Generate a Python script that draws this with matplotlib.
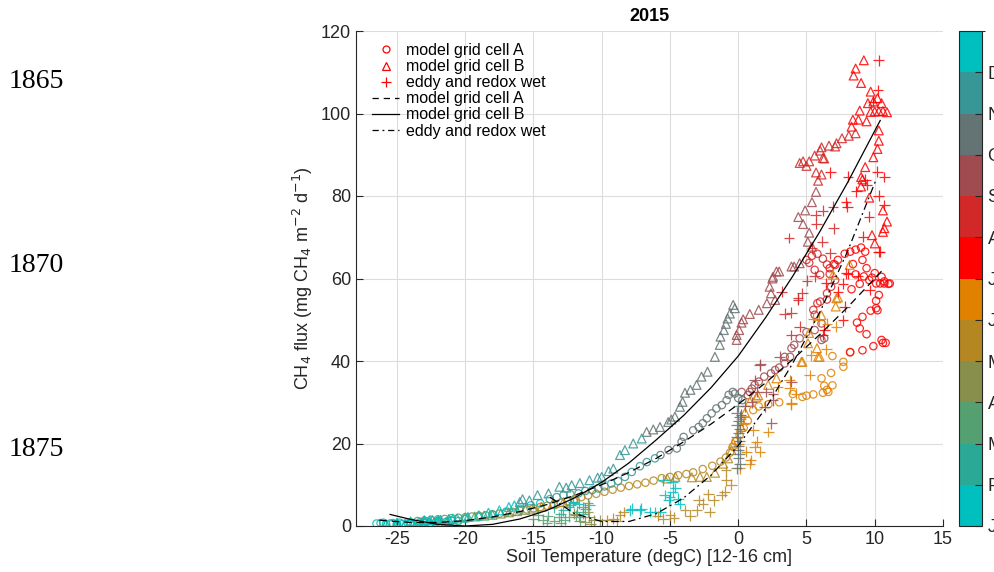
import numpy as np
import matplotlib
matplotlib.use("Agg")
import matplotlib.pyplot as plt
from matplotlib.colors import ListedColormap, BoundaryNorm

plt.rcParams['font.family'] = ['Liberation Sans', 'DejaVu Sans']
plt.rcParams['axes.unicode_minus'] = False

# month colours, Jan..Dec
month_colors = ['#00bfbf', '#2aaa96', '#55a070', '#878f4a', '#b48722', '#e08200',
                '#ff0000', '#d22828', '#a04b50', '#647373', '#379696', '#00bfbf']
month_labels = ['J', 'F', 'M', 'A', 'M', 'J', 'J', 'A', 'S', 'O', 'N', 'D']

# model grid cell A (circles), one list per month
circ_temp = [
    [-26.5, -26.2, -25.8, -25.5, -25.0, -24.6, -24.2, -23.8, -23.4, -23.0, -22.6, -22.2],
    [-26.0, -25.3, -24.8, -24.0, -23.3, -22.8, -22.0, -21.4, -21.0, -20.5],
    [-23.5, -23.0, -22.5, -22.0, -21.5, -21.0, -20.5, -20.0],
    [-19.5, -19.0, -18.5, -18.0, -17.5, -17.0, -16.5, -16.0, -15.5],
    [-15.0, -14.5, -14.0, -13.5, -13.0, -12.5, -12.0, -11.5, -11.0, -10.4,
     -9.8, -9.2, -8.6, -8.0, -7.4, -6.8, -6.2, -5.6, -5.0, -4.4,
     -3.8, -3.3, -2.6, -1.9, -1.3, -0.9, -0.6],
    [-0.4, -0.2, 0.1, 0.4, 0.7, 1.1, 1.5, 2.2, 3.0, 4.0,
     4.7, 5.5, 6.2, 6.6, 6.9, 6.3, 6.1, 6.8, 7.7, 7.7,
     6.9, 8.2, 6.5, 5.0],
    [9.4, 10.0, 10.5, 10.7, 11.0, 10.4, 10.7, 11.1, 10.1, 9.6,
     8.9, 8.3, 10.3, 10.1, 10.2, 10.1, 9.7, 9.1, 8.7, 8.9,
     9.4, 10.5, 10.6, 10.8, 9.9, 9.1, 8.2, 7.3, 7.8, 8.2,
     8.6, 9.0, 9.3, 9.1, 8.4, 7.0, 6.7, 8.6, 9.2, 9.8],
    [5.2, 5.6, 6.0, 6.5, 7.1, 6.7, 7.1, 6.8, 6.5, 6.5, 6.0, 5.8, 5.5, 5.6, 5.0, 5.4, 5.8, 6.2],
    [6.1, 6.3, 6.1, 5.6, 5.0, 4.5, 4.1, 3.9, 3.8, 3.4, 3.4, 3.0, 2.7, 2.4, 1.9, 1.5, 1.2,
     1.0, 0.85, 0.7, 0.25],
    [0.3, 0.0, -0.25, -0.4, -0.7, -0.85, -1.2, -1.6, -1.95, -2.3, -2.6, -2.9, -3.3, -4.0,
     -4.15, -4.5, -5.1, -5.7],
    [-6.1, -6.7, -7.2, -7.8, -8.3, -8.8, -9.3, -9.8, -10.25, -10.7, -11.2, -11.7, -12.3,
     -12.8, -13.3, -13.8],
    [-14.5, -15.2, -16.0, -17.0, -18.0, -19.0, -20.0, -21.0, -22.0, -23.0, -24.0, -25.0],
]
circ_flux = [
    [0.6, 0.7, 0.5, 0.6, 0.4, 0.5, 0.6, 0.5, 0.6, 0.7, 0.6, 0.8],
    [0.8, 0.7, 0.8, 0.9, 1.0, 1.1, 1.2, 1.0, 1.3, 1.2],
    [1.2, 1.3, 1.5, 1.6, 1.7, 1.9, 2.0, 2.1],
    [2.3, 2.5, 2.6, 2.8, 3.0, 3.2, 3.4, 3.7, 4.0],
    [4.3, 4.6, 4.9, 5.2, 5.6, 6.0, 6.5, 7.0, 7.4, 7.8,
     8.3, 8.8, 9.3, 9.7, 10.1, 10.5, 11.0, 11.6, 11.9, 12.3,
     12.6, 13.0, 13.8, 14.6, 15.6, 16.6, 17.8],
    [19.2, 20.5, 22.0, 23.8, 25.5, 28.1, 29.0, 29.5, 30.0, 32.0,
     31.3, 31.9, 32.3, 32.5, 34.1, 34.0, 35.8, 37.1, 38.6, 39.8,
     41.2, 42.2, 33.0, 31.6],
    [62.5, 61.3, 60.4, 59.3, 58.7, 58.8, 58.8, 58.8, 58.8, 59.6,
     58.7, 57.4, 56.0, 54.6, 52.3, 52.8, 52.2, 50.7, 49.3, 47.9,
     46.5, 45.1, 44.4, 44.4, 43.6, 42.6, 42.1, 64.5, 66.0, 66.5,
     67.0, 67.5, 66.5, 64.5, 63.5, 63.5, 62.5, 61.0, 60.5, 60.2],
    [63.8, 62.1, 60.9, 63.4, 63.3, 61.1, 59.6, 58.0, 56.4, 54.9, 54.4, 54.0, 52.4, 51.2,
     64.5, 65.5, 66.0, 64.8],
    [49.1, 45.5, 45.1, 47.5, 47.0, 45.5, 43.9, 43.1, 41.0, 41.0, 39.4, 38.4, 37.8, 37.0,
     36.2, 35.0, 34.2, 33.3, 32.5, 31.7, 32.5],
    [30.5, 31.0, 32.1, 32.5, 31.8, 30.5, 29.3, 28.5, 27.3, 26.1, 24.9, 24.0, 23.2, 21.6,
     20.4, 18.8, 18.4, 17.2],
    [16.4, 15.5, 14.5, 13.1, 11.9, 10.9, 10.3, 9.6, 9.1, 8.7, 8.5, 7.9, 7.7, 7.5, 7.0, 6.5],
    [5.5, 5.0, 4.2, 3.5, 2.8, 2.2, 1.7, 1.3, 1.0, 0.8, 0.6, 0.5],
]

# model grid cell B (triangles)
tri_temp = [
    [-25.8, -25.0, -24.4, -23.8, -23.2, -22.6, -22.0, -21.4],
    [-23.0, -22.4, -21.8, -21.2, -20.6],
    [-20.0, -19.3, -18.6, -18.0],
    [-17.4, -16.8, -16.2, -15.6, -15.0],
    [-14.4, -13.6, -12.8, -12.0, -5.2, -4.6, -3.4, -2.8, -2.3, -1.7, -1.1, -0.74, -0.49],
    [-0.37, 0.2, 0.5, 0.85, 1.34, 1.46, 2.19, 2.8, 4.63, 4.7, 5.19, 5.11, 5.77, 5.97, 5.85,
     6.09, 7.19, 7.14, 7.31, 6.94, 8.16],
    [10.3, 10.3, 10.2, 9.9, 9.3, 9.0, 9.1, 9.0, 9.6, 10.6,
     10.9, 10.6, 10.7, 10.0, 9.2, 8.6, 8.45, 9.0, 9.7, 9.5,
     9.9, 10.2, 10.5, 10.0, 10.3, 10.6, 10.9, 9.7, 8.9, 8.4,
     8.8, 9.4, 8.3, 9.8],
    [8.6, 8.1, 7.6, 7.2, 7.1, 6.65, 6.1, 6.0, 5.6, 6.2, 6.3, 4.5, 4.75, 5.2, 5.0, 5.7, 6.1, 5.85],
    [5.7, 5.4, 4.9, 4.4, 4.75, 5.2, 5.1, 5.4, 4.1, 3.9,
     4.5, 2.8, 3.0, 2.55, 2.5, 2.3, 2.4, 2.1, 2.7, 1.5,
     0.85, 0.36, 0.24, 0.07, -0.12, -0.12],
    [-0.37, -0.25, -0.61, -0.78, -0.9, -1.05, -1.3, -1.35, -1.71, -2.25, -2.69, -3.05, -3.5,
     -3.9, -4.08, -4.27, -4.64, -4.9, -5.13, -5.73, -6.22, -6.71],
    [-7.07, -7.69, -8.3, -8.66, -9.15, -9.5, -10.0, -10.3, -10.9, -11.6, -12.2, -12.6, -13.1,
     -13.9, -14.7, -15.3, -16.0, -15.8],
    [-16.4, -16.8, -17.5, -18.3, -19.0, -19.8, -20.9, -22.0, -22.6, -23.0, -24.0, -25.0],
]
tri_flux = [
    [0.4, 0.5, 0.6, 0.5, 0.7, 0.8, 0.9, 1.0],
    [1.3, 1.4, 1.5, 1.7, 1.8],
    [2.1, 2.3, 2.5, 2.7],
    [3.0, 3.3, 3.6, 3.9, 4.2],
    [4.7, 5.3, 5.8, 6.5, 11.5, 11.9, 11.8, 11.9, 11.9, 12.9, 15.1, 16.4, 18.4],
    [20.0, 24.0, 27.5, 30.1, 31.3, 31.7, 34.2, 35.8, 39.8, 39.8, 46.8, 44.3, 43.1, 41.0, 41.0,
     51.1, 55.2, 53.2, 55.4, 60.9, 63.3],
    [95.9, 93.4, 91.4, 89.4, 87.0, 84.6, 84.0, 82.3, 79.6, 76.5,
     73.8, 71.3, 72.2, 68.5, 112.9, 110.9, 109.2, 107.4, 105.3, 102.5,
     102.9, 103.7, 102.5, 100.5, 100.5, 100.6, 100.3, 100.4, 100.7, 98.5,
     98.5, 98.1, 96.8, 70.5],
    [95.2, 94.6, 94.0, 92.8, 92.0, 92.2, 91.8, 91.0, 89.8, 89.2, 89.1, 88.0, 88.4, 88.4, 87.3,
     85.7, 85.2, 83.7],
    [81.0, 78.5, 76.5, 74.9, 73.2, 71.1, 68.9, 67.7, 62.9, 62.9,
     63.7, 61.7, 61.7, 60.4, 60.0, 58.0, 56.4, 54.0, 54.8, 52.4,
     51.4, 50.1, 49.3, 47.5, 46.3, 45.1],
    [53.6, 52.8, 51.5, 50.3, 49.0, 47.5, 45.9, 43.9, 41.0, 37.4, 36.2, 34.2, 33.0,
     32.3, 30.1, 28.9, 26.5, 25.8, 25.2, 24.0, 23.4, 22.8],
    [21.2, 20.0, 18.4, 17.2, 13.9, 13.3, 11.9, 11.7, 11.1, 10.4, 9.9, 9.3, 9.5,
     7.9, 7.5, 6.2, 5.8, 6.5],
    [5.0, 4.6, 3.8, 3.2, 2.6, 2.2, 1.8, 1.5, 1.4, 1.4, 1.1, 0.8],
]

# eddy and redox wet (plus signs)
plus_temp = [
    [-12.1, -11.7, -12.3, -11.2, -10.9, -7.9, -7.2, -6.5, -5.7, -5.4, -4.8, -4.4, -4.8, -5.5,
     -4.3, -5.1, -6.1, -7.1, -7.8, -4.6, -5.0],
    [-12.8, -12.4, -13.0, -11.8, -11.4, -13.5],
    [-15.0, -14.7, -14.3, -13.95, -13.5, -13.1, -12.7, -12.4, -11.9, -11.6, -14.0, -13.0],
    [-11.7, -11.0, -10.9, -10.6, -10.1, -11.2, -10.8, -12.0, -11.4, -11.0],
    [-9.6, -9.15, -8.66, -8.4, -8.9, -5.9, -5.5, -5.0, -4.7, -3.9, -3.05, -2.9, -2.6, -2.2,
     -1.8, -2.1, -1.2, -1.0, -0.86, -0.9, -3.5],
    [1.1, 2.2, 1.34, 1.2, 1.6, 0.6, 0.85, 0.9, 0.36, 0.0,
     0.2, 3.9, 5.24, 3.77, 3.77, 2.92, 4.26, 3.9, 5.48, 5.9,
     6.5, 7.19, 6.46, 5.36, -0.5, 0.1],
    [10.29, 10.23, 9.9, 6.75, 8.04, 10.19, 10.7, 9.4, 9.3, 8.65,
     10.3, 10.7, 8.0, 7.9, 9.58, 9.14, 10.3, 8.04, 8.77, 7.67,
     7.31, 7.8, 7.67, 6.21, 6.3, 9.63, 10.36, 7.92, 6.46],
    [6.94, 6.2, 5.68, 5.73, 7.0, 3.72, 6.16, 5.4, 6.75, 5.04, 5.6, 4.7, 4.38, 3.9, 3.4, 4.5,
     3.9, 3.17, 4.38],
    [3.04, 1.63, 1.58, 1.21, 2.07, 2.55, 1.95, 1.34, 2.55, 3.9, 2.43, 1.0, 0.5, 0.2],
    [0.0, -0.1, 0.1, 0.0, -0.1, 0.1, 0.0, -0.1, 0.1, 0.0, 0.0, 0.1, 0.0, 0.1, -0.1],
    [],
    [],
]
plus_flux = [
    [5.8, 5.4, 5.0, 4.2, 5.0, 3.8, 3.8, 3.4, 3.4, 7.5, 8.3, 6.6, 10.7, 11.1,
     5.4, 6.2, 3.4, 4.2, 4.2, 9.2, 7.0],
    [3.8, 4.5, 3.0, 3.5, 3.0, 4.5],
    [1.8, 2.6, 1.5, 2.4, 1.2, 2.2, 1.5, 2.2, 2.6, 1.3, 0.8, 0.7],
    [2.2, 3.4, 2.2, 1.4, 1.4, 1.0, 0.6, 3.0, 4.6, 5.5],
    [1.4, 1.8, 2.6, 3.4, 1.2, 2.4, 1.8, 2.6, 2.0, 3.8, 3.8, 6.2, 5.4, 7.7,
     6.2, 3.4, 7.5, 8.3, 11.1, 13.5, 2.5],
    [23.2, 22.8, 20.4, 19.2, 18.0, 18.0, 15.1, 16.0, 24.9, 20.0,
     26.0, 29.7, 36.6, 35.4, 33.4, 33.7, 32.1, 29.5, 50.3, 50.0,
     49.0, 48.3, 42.8, 41.4, 10.0, 14.0],
    [112.9, 105.6, 102.9, 85.7, 84.7, 85.9, 84.6, 82.7, 84.0, 81.1,
     80.1, 77.8, 77.4, 78.5, 75.0, 70.1, 66.5, 61.1, 60.6, 58.7,
     56.8, 53.2, 49.9, 46.3, 47.5, 57.2, 66.5, 61.3, 58.8],
    [77.4, 76.4, 75.4, 73.2, 72.2, 69.8, 68.9, 67.3, 66.1, 59.5, 60.5, 56.4, 54.9, 51.7, 51.5,
     48.3, 46.3, 56.8, 55.2],
    [41.0, 39.2, 39.0, 35.4, 32.5, 30.5, 28.9, 32.5, 32.1, 35.0, 24.9, 30.0, 29.0, 27.0],
    [29.0, 27.5, 26.5, 25.5, 24.5, 23.5, 22.5, 21.5, 20.5, 19.5, 18.5, 17.5, 16.5, 15.0, 14.0],
    [],
    [],
]

# fitted curves
fit_a_temp = [-26.3, -24, -22, -20, -18, -16, -14, -12, -10, -8, -6, -4, -2, 0, 2, 4, 6, 8, 10, 10.7]
fit_a_flux = [1.4, 0.85, 0.85, 1.3, 2.2, 3.5, 5.2, 7.4, 10.0, 13.0, 16.4, 20.4, 24.7, 29.5,
              34.7, 40.4, 46.5, 53.0, 60.0, 62.5]
fit_b_temp = [-25.5, -24, -22, -20, -18, -16, -14, -12, -10, -8, -6, -4, -2, 0, 2, 4, 6, 8, 10, 10.4]
fit_b_flux = [2.8, 1.6, 0.4, 0.0, 0.4, 1.7, 3.8, 6.8, 10.6, 15.3, 20.9, 26.8, 33.5, 41.2,
              50.5, 60.6, 71.5, 83.2, 95.8, 98.3]
fit_wet_temp = [-13.8, -12, -10, -8, -6, -4, -2, 0, 2, 4, 6, 8, 10.1]
fit_wet_flux = [7.0, 3.0, 1.1, 1.1, 3.0, 6.8, 12.3, 19.5, 28.5, 39.5, 52.0, 66.5, 84.0]

cmap = ListedColormap(month_colors)
norm = BoundaryNorm(np.arange(13), cmap.N)

fig = plt.figure(figsize=(9.94, 5.72), dpi=100)
ax = fig.add_axes([356 / 994, 1 - 526 / 572, 587 / 994, 495 / 572])
cax = fig.add_axes([959 / 994, 1 - 526 / 572, 23 / 994, 495 / 572])

dark = '#262626'


def flatten(temp, flux):
    t, f, m = [], [], []
    for i in range(12):
        t += temp[i]
        f += flux[i]
        m += [i + 0.5] * len(temp[i])
    return np.array(t), np.array(f), np.array(m)


for temp, flux, mk, sz in [(circ_temp, circ_flux, 'o', 28),
                           (tri_temp, tri_flux, '^', 40),
                           (plus_temp, plus_flux, '+', 60)]:
    t, f, m = flatten(temp, flux)
    if mk == '+':
        ax.scatter(t, f, c=m, cmap=cmap, norm=norm, marker=mk, s=sz, linewidths=0.9, alpha=0.85)
    else:
        ax.scatter(t, f, marker=mk, s=sz, facecolors='none',
                   edgecolors=cmap(norm(m)), linewidths=0.9, alpha=0.85)

ax.plot(fit_a_temp, fit_a_flux, color='k', lw=0.9, dashes=(6, 4))
ax.plot(fit_b_temp, fit_b_flux, color='k', lw=0.9)
ax.plot(fit_wet_temp, fit_wet_flux, color='k', lw=0.9, dashes=(6, 3, 1.5, 3))

# legend handles
h1, = ax.plot([], [], 'o', mfc='none', mec='r', ms=5, mew=0.9)
h2, = ax.plot([], [], '^', mfc='none', mec='r', ms=6, mew=0.9)
h3, = ax.plot([], [], '+', color='r', ms=7, mew=0.9)
h4, = ax.plot([], [], color='k', lw=0.9, dashes=(5, 4))
h5, = ax.plot([], [], color='k', lw=0.9)
h6, = ax.plot([], [], color='k', lw=0.9, dashes=(5, 3, 1.5, 3))
names = ['model grid cell A', 'model grid cell B', 'eddy and redox wet'] * 2
ax.legend([h1, h2, h3, h4, h5, h6], names, loc='upper left', frameon=False,
          fontsize=11.5, handlelength=1.7, handletextpad=0.45, labelspacing=0.07,
          borderpad=0, borderaxespad=0, bbox_to_anchor=(16 / 587, 1 - 12 / 495))

ax.set_xlim(-28, 15)
ax.set_ylim(0, 120)
ax.set_xticks(np.arange(-25, 16, 5))
ax.set_yticks(np.arange(0, 121, 20))
ax.grid(True, color='#dcdcdc', lw=0.8)
ax.set_axisbelow(True)
for s in ['top', 'right']:
    ax.spines[s].set_visible(False)
for s in ['left', 'bottom']:
    ax.spines[s].set_color(dark)
    ax.spines[s].set_linewidth(0.8)
ax.tick_params(direction='in', length=5, width=0.8, colors=dark, labelsize=13)
ax.set_title('2015', fontsize=13, fontweight='bold', pad=7)
ax.set_xlabel('Soil Temperature (degC) [12-16 cm]', fontsize=13, color=dark, labelpad=1)
ax.set_ylabel('CH$_4$ flux (mg CH$_4$ m$^{-2}$ d$^{-1}$)', fontsize=13, color=dark, labelpad=4)

cb = fig.colorbar(plt.cm.ScalarMappable(norm=norm, cmap=cmap), cax=cax)
cb.set_ticks(np.arange(12))
cb.set_ticklabels(month_labels)
cb.outline.set_edgecolor(dark)
cb.outline.set_linewidth(0.8)
cax.tick_params(direction='in', length=5, width=0.8, colors=dark, labelsize=13, pad=4)

for yr, yp in [('1865', 82), ('1870', 265), ('1875', 449)]:
    fig.text(9 / 994, 1 - yp / 572, yr, family='Liberation Serif', fontsize=20,
             va='center', ha='left', color='black')

fig.savefig('out.png', dpi=100)
